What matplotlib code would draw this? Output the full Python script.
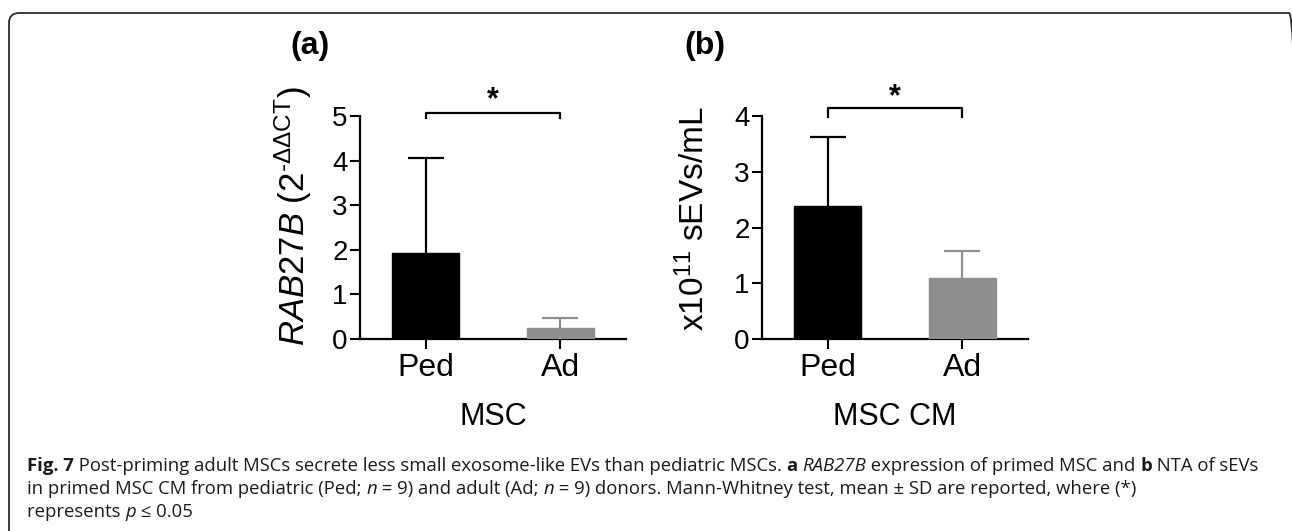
import matplotlib
matplotlib.use("Agg")
import matplotlib.pyplot as plt
from matplotlib.patches import FancyBboxPatch

plt.rcParams['font.family'] = ['Liberation Sans', 'DejaVu Sans']
plt.rcParams['mathtext.fontset'] = 'custom'
plt.rcParams['mathtext.rm'] = 'Liberation Sans'
plt.rcParams['mathtext.it'] = 'Liberation Sans:italic'
plt.rcParams['mathtext.bf'] = 'Liberation Sans:bold'

# data
groups = ["Ped", "Ad"]
rab27b_mean = [1.92, 0.25]
rab27b_sd = [2.13, 0.23]
sevs_mean = [2.38, 1.10]
sevs_sd = [1.24, 0.48]
bar_colors = ["#000000", "#8e8e8e"]

W, H = 1292, 531
fig = plt.figure(figsize=(W / 100, H / 100), dpi=100)


def px(x, y):
    return x / W, 1 - y / H


def panel(left, mean, sd, ymax, ylabel, ylabel_size, xlabel, bracket, star_y, label_xy):
    ax = fig.add_axes([left / W, 1 - 339 / H, 266 / W, 223 / H])
    xs = list(range(len(groups)))
    ax.bar(xs, mean, width=0.5, color=bar_colors, edgecolor=bar_colors, zorder=3)
    for x, m, s, c in zip(xs, mean, sd, bar_colors):
        eb = ax.errorbar(x, m, yerr=[[0], [s]], color=c, capsize=13,
                         elinewidth=1.6, capthick=1.6, zorder=2)
        # one-sided bars: drop the cap sitting on the bar top
        for cap in eb[1]:
            if abs(cap.get_ydata()[0] - m) < 1e-9:
                cap.set_visible(False)
    ax.set_xlim(-0.49, 1.49)
    ax.set_ylim(0, ymax)
    ax.set_yticks(range(0, ymax + 1))
    ax.set_xticks(xs)
    ax.set_xticklabels(groups, fontsize=23)
    ax.tick_params(axis='y', labelsize=20, length=7, width=1.5, pad=2)
    ax.tick_params(axis='x', length=7, width=1.5, pad=3)
    for s in ['top', 'right']:
        ax.spines[s].set_visible(False)
    for s in ['left', 'bottom']:
        ax.spines[s].set_linewidth(1.6)
    ax.set_ylabel(ylabel, fontsize=ylabel_size, va='center')
    ax.yaxis.set_label_coords(*label_xy)
    ax.set_xlabel(xlabel, fontsize=22, va='center')
    ax.xaxis.set_label_coords(0.5, -0.35)
    lo, hi = bracket
    ax.plot([0, 0, 1, 1], [lo, hi, hi, lo], color='black', lw=1.6, clip_on=False)
    ax.text(0.5, star_y, "*", ha='center', va='center', fontsize=22,
            fontweight='bold')
    return ax


panel(360, rab27b_mean, rab27b_sd, 5,
      r"$\mathit{RAB27B}$ (2$^{\text{-ΔΔCT}}$)", 25, "MSC",
      (4.95, 5.07), 5.36, (-0.25, 0.55))
panel(762, sevs_mean, sevs_sd, 4,
      r"x10$^{\mathrm{11}}$ sEVs/mL", 24, "MSC CM",
      (3.99, 4.15), 4.33, (-0.255, 0.54))

fig.text(*px(310, 46), "(a)", ha='center', va='center', fontsize=23,
         fontweight='bold')
fig.text(*px(705, 46), "(b)", ha='center', va='center', fontsize=23,
         fontweight='bold')

# frame round the whole figure
frame = FancyBboxPatch((0.09, -1.0), 12.9, 5.18 + 1.0,
                       boxstyle="round,pad=0,rounding_size=0.1",
                       transform=fig.dpi_scale_trans, fill=False,
                       edgecolor='#2a2a2a', lw=1.3)
fig.patches.append(frame)

# caption: mixed bold / italic pieces laid out one after another
cap_font = ['Open Sans', 'DejaVu Sans']
cap_size = 13.3
lines = [
    [("Fig. 7", 'bold', 'normal'),
     (" Post-priming adult MSCs secrete less small exosome-like EVs than pediatric MSCs. ", 'normal', 'normal'),
     ("a", 'bold', 'normal'), (" ", 'normal', 'normal'),
     ("RAB27B", 'normal', 'italic'),
     (" expression of primed MSC and ", 'normal', 'normal'),
     ("b", 'bold', 'normal'), (" NTA of sEVs", 'normal', 'normal')],
    [("in primed MSC CM from pediatric (Ped; ", 'normal', 'normal'),
     ("n", 'normal', 'italic'),
     (" = 9) and adult (Ad; ", 'normal', 'normal'),
     ("n", 'normal', 'italic'),
     (" = 9) donors. Mann-Whitney test, mean ± SD are reported, where (*)", 'normal', 'normal')],
    [("represents ", 'normal', 'normal'), ("p", 'normal', 'italic'),
     (" ≤ 0.05", 'normal', 'normal')],
]
baselines = [471, 494, 517]

cap_rows = []
for pieces in lines:
    row = []
    for txt, wt, st in pieces:
        row.append(fig.text(0, 0, txt, fontsize=cap_size, fontweight=wt,
                            fontstyle=st, family=cap_font, color='#1a1a1a',
                            va='baseline', ha='left'))
    cap_rows.append(row)

fig.canvas.draw()
r = fig.canvas.get_renderer()
for row, yb in zip(cap_rows, baselines):
    x = 27
    for t in row:
        t.set_position(px(x, yb))
        x += t.get_window_extent(r).width

fig.savefig("out.png", dpi=100)
